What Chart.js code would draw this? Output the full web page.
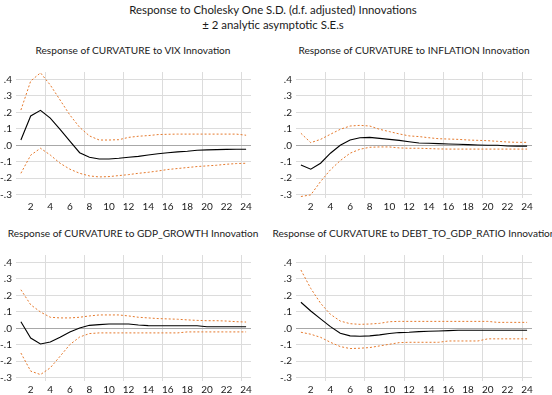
<!DOCTYPE html>
<html><head><meta charset="utf-8">
<script src="https://cdn.jsdelivr.net/npm/chart.js@4"></script>
<style>
html,body{margin:0;padding:0;background:#fff;}
body{width:552px;height:395px;position:relative;overflow:hidden;font-family:Lato,sans-serif;color:#1a1a1a;}
.t{position:absolute;white-space:nowrap;transform:translate(-50%,-50%);font-size:10.1px;}
.m{font-size:11.4px;}
.box{position:absolute;}
</style></head><body>
<div class="t m" style="left:273px;top:9px">Response to Cholesky One S.D. (d.f. adjusted) Innovations</div>
<div class="t m" style="left:273px;top:24px">± 2 analytic asymptotic S.E.s</div>
<div class="t" style="left:133px;top:50px">Response of CURVATURE to VIX Innovation</div>
<div class="t" style="left:414px;top:50px">Response of CURVATURE to INFLATION Innovation</div>
<div class="t" style="left:133px;top:233px">Response of CURVATURE to GDP_GROWTH Innovation</div>
<div class="t" style="left:414px;top:233px">Response of CURVATURE to DEBT_TO_GDP_RATIO Innovation</div>
<div class="box" style="left:0;top:60px;width:276px;height:160px"><canvas id="c1"></canvas></div>
<div class="box" style="left:276px;top:60px;width:276px;height:160px"><canvas id="c2"></canvas></div>
<div class="box" style="left:0;top:245px;width:276px;height:150px"><canvas id="c3"></canvas></div>
<div class="box" style="left:276px;top:245px;width:276px;height:150px"><canvas id="c4"></canvas></div>
<script>
const periods = [1,2,3,4,5,6,7,8,9,10,11,12,13,14,15,16,17,18,19,20,21,22,23,24];
const yTicks = [-0.3,-0.2,-0.1,0,0.1,0.2,0.3,0.4];

const vixResp  = [0.032,0.178,0.212,0.165,0.097,0.025,-0.045,-0.073,-0.083,-0.083,-0.079,-0.073,-0.067,-0.059,-0.051,-0.045,-0.040,-0.036,-0.030,-0.028,-0.026,-0.025,-0.024,-0.024];
const vixUpper = [0.214,0.390,0.440,0.366,0.275,0.184,0.109,0.057,0.032,0.032,0.034,0.048,0.055,0.059,0.065,0.067,0.068,0.068,0.068,0.068,0.068,0.068,0.068,0.061];
const vixLower = [-0.170,-0.060,-0.018,-0.059,-0.109,-0.145,-0.170,-0.186,-0.192,-0.190,-0.184,-0.178,-0.170,-0.164,-0.156,-0.147,-0.141,-0.135,-0.129,-0.125,-0.121,-0.115,-0.111,-0.109];

const inflResp  = [-0.119,-0.145,-0.109,-0.048,0.000,0.032,0.046,0.048,0.042,0.036,0.030,0.022,0.014,0.012,0.010,0.008,0.006,0.004,0.002,0.000,0.000,-0.004,-0.005,-0.005];
const inflUpper = [0.073,0.016,0.036,0.067,0.097,0.117,0.121,0.117,0.097,0.083,0.069,0.057,0.053,0.046,0.040,0.038,0.036,0.032,0.030,0.028,0.024,0.020,0.018,0.018];
const inflLower = [-0.311,-0.301,-0.220,-0.149,-0.093,-0.048,-0.024,-0.012,-0.010,-0.010,-0.016,-0.018,-0.018,-0.020,-0.022,-0.023,-0.023,-0.023,-0.023,-0.023,-0.023,-0.023,-0.023,-0.023];

const gdpResp  = [0.040,-0.059,-0.095,-0.083,-0.055,-0.022,0.002,0.018,0.022,0.026,0.026,0.026,0.020,0.016,0.015,0.015,0.015,0.015,0.015,0.009,0.009,0.009,0.009,0.009];
const gdpUpper = [0.234,0.143,0.099,0.067,0.063,0.063,0.067,0.075,0.081,0.081,0.081,0.075,0.067,0.063,0.059,0.057,0.055,0.051,0.048,0.046,0.046,0.044,0.040,0.038];
const gdpLower = [-0.150,-0.260,-0.281,-0.240,-0.170,-0.099,-0.053,-0.032,-0.028,-0.028,-0.028,-0.028,-0.028,-0.028,-0.028,-0.028,-0.028,-0.022,-0.022,-0.022,-0.022,-0.022,-0.022,-0.022];

const debtResp  = [0.158,0.105,0.057,0.010,-0.030,-0.046,-0.048,-0.046,-0.040,-0.032,-0.026,-0.024,-0.020,-0.018,-0.016,-0.014,-0.012,-0.012,-0.012,-0.012,-0.012,-0.012,-0.012,-0.012];
const debtUpper = [0.354,0.242,0.152,0.085,0.044,0.028,0.024,0.026,0.030,0.040,0.042,0.042,0.042,0.042,0.042,0.042,0.042,0.042,0.042,0.042,0.036,0.036,0.036,0.036];
const debtLower = [-0.024,-0.036,-0.055,-0.085,-0.111,-0.123,-0.121,-0.117,-0.107,-0.097,-0.087,-0.085,-0.085,-0.085,-0.085,-0.077,-0.077,-0.077,-0.077,-0.064,-0.064,-0.064,-0.064,-0.064];

const ORANGE = '#E5792C';
const GRID = '#dcdcdc';
const ZERO = '#a8a8a8';
const TICKFONT = {family: 'Lato, sans-serif', size: 10};

function fmt(v){
  const n = Math.round(v*10)/10;
  const s = Math.abs(n).toFixed(1).replace(/^0/, '');
  return (n < 0 ? '-' : '') + s;
}

function makeChart(id, resp, upper, lower, opt){
  const ds = (data, color, dash, w) => ({data, borderColor: color, borderWidth: w, borderDash: dash, pointRadius: 0, tension: 0, fill: false});
  new Chart(document.getElementById(id), {
    type: 'line',
    data: {
      labels: periods.map(String),
      datasets: [ds(upper, ORANGE, [2,2], 1), ds(lower, ORANGE, [2,2], 1), ds(resp, '#000', [], 1.1)]
    },
    options: {
      responsive: true, maintainAspectRatio: false, animation: false,
      devicePixelRatio: 1,
      layout: {padding: {top: opt.top, right: opt.right, left: 0, bottom: 0}},
      plugins: {legend: {display: false}, tooltip: {enabled: false}},
      scales: {
        x: {
          type: 'category', offset: true,
          border: {display: false},
          grid: {offset: true, drawTicks: false,
            color: c => (c.index !== undefined && (c.index + 1) % 4 === 0) ? GRID : 'rgba(0,0,0,0)'},
          ticks: {autoSkip: false, maxRotation: 0, padding: 3, color: '#1a1a1a', font: TICKFONT,
            callback: (v, i) => (periods[i] % 2 === 0 ? String(periods[i]) : '')},
          afterFit: s => { s.height = opt.xh; }
        },
        y: {
          min: -0.32, max: 0.445,
          border: {display: false},
          grid: {drawTicks: false, color: c => (c.tick && Math.abs(c.tick.value) < 1e-9) ? ZERO : GRID},
          ticks: {stepSize: 0.1, includeBounds: false, padding: 4, color: '#1a1a1a', font: TICKFONT, callback: v => fmt(v)},
          afterBuildTicks: s => { s.ticks = yTicks.map(v => ({value: v})); },
          afterFit: s => { s.width = opt.yw; }
        }
      }
    }
  });
}

makeChart('c1', vixResp, vixUpper, vixLower, {top: 12, right: 25, yw: 16, xh: 22});
makeChart('c2', inflResp, inflUpper, inflLower, {top: 12, right: 20, yw: 20, xh: 22});
makeChart('c3', gdpResp, gdpUpper, gdpLower, {top: 10, right: 25, yw: 16, xh: 14});
makeChart('c4', debtResp, debtUpper, debtLower, {top: 10, right: 20, yw: 20, xh: 14});
</script>
</body></html>
